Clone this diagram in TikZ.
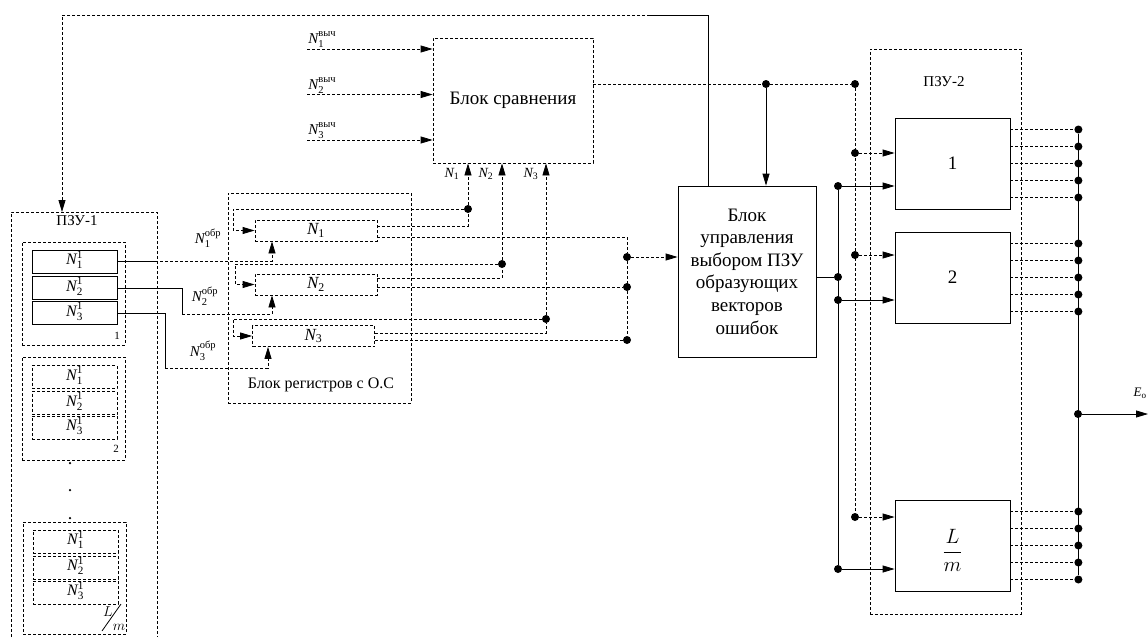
\documentclass[tikz,border=0pt]{standalone}
\usepackage{fontspec}
\setmainfont{Liberation Serif}
\usepackage{amsmath}
\usepackage{tikz}
\usetikzlibrary{arrows.meta, positioning, calc}

\newcommand{\Nx}[2]{$\mathit{N}_{\text{#1}}^{\text{#2}}$}
\newcommand{\Nv}[2]{$\mathit{N}_{\text{#1}}^{\text{\raisebox{1.5pt}{#2}}}$}
\newcommand{\Ns}[1]{$\mathit{N}_{\text{#1}}$}
\newcommand{\Nr}[2]{\raisebox{0pt}[8pt][2pt]{\Nx{#1}{#2}}}

\begin{document}
\begin{tikzpicture}[x=1pt, y=-1pt, line width=0.8pt,
    dl/.style={dash pattern=on 3pt off 2pt},
    tip/.style={-{Triangle[length=12pt,width=7pt]}},
    box/.style={draw, inner sep=0pt, align=center, font=\fontsize{19}{22.6}\selectfont},
    dbox/.style={box, dl},
    reg/.style={box, minimum width=85pt, minimum height=23pt, font=\fontsize{16}{18}\selectfont},
    rr/.style={dbox, minimum width=122pt, minimum height=21pt, font=\fontsize{17}{20}\selectfont},
    romblk/.style={box, minimum width=115pt, minimum height=91pt, font=\fontsize{19}{22}\selectfont},
    dot/.style={circle, fill, inner sep=0pt, minimum size=8pt},
    pdot/.style={circle, fill, inner sep=0pt, minimum size=2.5pt},
    lbl/.style={inner sep=1pt, font=\fontsize{15}{18}\selectfont},
    slbl/.style={inner sep=1pt, font=\fontsize{14}{16}\selectfont},
]
\useasboundingbox (0,0) rectangle (1148,637);

\draw[dl] (11,637) -- (11,212) -- (157,212) -- (157,637);
\coordinate (rom1) at (62,212);
\node[lbl] (rom1lbl) at (77,221) {ПЗУ-1};
\node[dbox, minimum width=103pt, minimum height=103pt] (s1) at (73.5,293.5) {};
\node[dbox, minimum width=103pt, minimum height=103pt] (s2) at (73.5,408.5) {};
\node[dbox, minimum width=103pt, minimum height=112pt] (s3) at (74.5,578) {};
\node[reg] (p11) at (74.5,261.5) {\Nr{1}{1}};
\node[reg] (p12) at (74.5,288) {\Nr{2}{1}};
\node[reg] (p13) at (74.5,313) {\Nr{3}{1}};
\node[reg, dl] (p21) at (74.5,377) {\Nr{1}{1}};
\node[reg, dl] (p22) at (74.5,403) {\Nr{2}{1}};
\node[reg, dl] (p23) at (74.5,427.5) {\Nr{3}{1}};
\node[reg, dl] (p31) at (75.5,541.5) {\Nr{1}{1}};
\node[reg, dl] (p32) at (75.5,567.5) {\Nr{2}{1}};
\node[reg, dl] (p33) at (75.5,592.5) {\Nr{3}{1}};
\node[slbl, font=\fontsize{11}{13}\selectfont] (s1n) at (117,336) {1};
\node[slbl, font=\fontsize{11}{13}\selectfont] (s2n) at (116,449) {2};
\foreach \y in {463,490,518} \node[pdot] (vd\y) at (70,\y) {};
\node[lbl] (lmL) at (108,612) {$L$};
\node[lbl] (lmm) at (119,627) {$m$};
\draw (121,604) -- (102,631);

\node[dbox, minimum width=183pt, minimum height=210pt] (regs) at (319.5,298) {};
\node[lbl, font=\fontsize{16}{18}\selectfont] (regslbl) at (321,385) {Блок регистров с О.С};
\node[rr] (r1) at (316,230.5) {\Ns{1}};
\node[rr] (r2) at (316,284.5) {\Ns{2}};
\node[rr] (r3) at (313.5,336) {\Ns{3}};

\node[dbox, minimum width=160pt, minimum height=125pt] (cmp) at (513,100.5) {\raisebox{-4pt}{Блок сравнения}};
\node[box, minimum width=138pt, minimum height=171pt] (ctl) at (747,271.5) {Блок\\управления\\выбором ПЗУ\\образующих\\векторов\\ошибок};

\node[dbox, minimum width=151pt, minimum height=565pt] (rom2) at (945.5,331.5) {};
\node[lbl] (rom2lbl) at (944,82) {ПЗУ-2};
\node[romblk] (b1) at (952.5,163.5) {1};
\node[romblk] (b2) at (952.5,277.5) {2};
\node[romblk, font=\fontsize{20}{24}\selectfont] (bm) at (952.5,545.5) {\raisebox{-12pt}[0pt][0pt]{$\dfrac{L\rule[-5pt]{0pt}{0pt}}{\rule{0pt}{15pt}m}$}};

\foreach \i/\y in {1/49, 2/94.5, 3/140} {
  \coordinate (in\i) at (307,\y);
  \draw[dl, tip] (in\i) -- (in\i -| cmp.west);
  \node[lbl, anchor=south west] (inl\i) at (in\i) {\Nv{\i}{выч}};
}

\node[dot] (j1) at (468,209) {};
\node[dot] (j2) at (502,264) {};
\node[dot] (j3) at (546,319) {};
\foreach \i in {1,2,3} \draw[dl, tip] (j\i) -- (j\i |- cmp.south);
\node[slbl] (jl1) at (452,174) {\Ns{1}};
\node[slbl] (jl2) at (486,174) {\Ns{2}};
\node[slbl] (jl3) at (531,174) {\Ns{3}};

\draw[dl, tip] (j1) -- ++(-235,0) |- (r1.west);
\draw[dl, tip] (j2) -- ++(-267,0) |- (r2.west);
\draw[dl, tip] (j3) -- ++(-313,0) |- (r3.west);

\node[dot] (k1) at (627,257) {};
\node[dot] (k2) at (627,287) {};
\node[dot] (k3) at (627,340) {};
\draw[dl] ([yshift=4.5pt]r1.east) -| (j1);
\draw[dl] ([yshift=-6.5pt]r1.east) -| (k1);
\draw[dl] ([yshift=6.5pt]r2.east) -| (j2);
\draw[dl] ([yshift=-2.5pt]r2.east) -- (k2);
\draw[dl] ([yshift=3pt]r3.east) -| (j3);
\draw[dl] ([yshift=-4pt]r3.east) -- (k3);
\draw[dl] (k1) -- (k3);
\draw[dl, tip] (k1) -- (k1 -| ctl.west);

\coordinate (a1) at ([xshift=-44pt]r1.south);
\coordinate (a2) at ([xshift=-44pt]r2.south);
\coordinate (a3) at ([xshift=-45.5pt]r3.south);
\draw (p11.east) -- ++(38,0) coordinate (c1);
\draw[dl, tip] (c1) -| (a1);
\draw (p12.east) -- ++(65,0) -- ++(0,26) coordinate (c2);
\draw[dl, tip] (c2) -| (a2);
\draw (p13.east) -- ++(48,0) -- ++(0,55) coordinate (c3);
\draw[dl, tip] (c3) -| (a3);
\node[lbl] (ob1) at (208,238) {\Nx{1}{обр}};
\node[lbl] (ob2) at (205,296) {\Nx{2}{обр}};
\node[lbl] (ob3) at (203,351) {\Nx{3}{обр}};

\coordinate (fb) at (650,15);
\draw ([xshift=-39pt]ctl.north) |- (fb);
\draw[dl, tip] (fb) -| (rom1);

\node[dot] (o1) at (766,84) {};
\node[dot] (o2) at (855,84) {};
\draw[dl] ([yshift=16.5pt]cmp.east) -- (o1) -- (o2);
\draw[tip] (o1) -- (o1 |- ctl.north);
\node[dot] (q1) at (855,153) {};
\node[dot] (q2) at (855,255) {};
\node[dot] (q3) at (855,517) {};
\draw[dl] (o2) -- (q3);
\foreach \q/\b in {q1/b1, q2/b2, q3/bm} \draw[dl, tip] (\q) -- (\q -| \b.west);

\node[dot] (u1) at (838,186) {};
\node[dot] (u2) at (838,277) {};
\node[dot] (u3) at (838,300) {};
\node[dot] (u4) at (838,569) {};
\draw (u1) -- (u4);
\draw ([yshift=-5.5pt]ctl.east) -- (u2);
\foreach \u/\b in {u1/b1, u3/b2, u4/bm} \draw[tip] (\u) -- (\u -| \b.west);

\foreach \b in {b1,b2,bm} \foreach \k/\d in {1/34,2/17,3/0,4/-17,5/-34} {
  \draw[dl] ([yshift=\d pt]\b.east) -- ++(68,0) node[dot] (\b-\k) {};
}
\draw (b1-1) -- (bm-5);
\node[dot] (eo) at (1078,414) {};
\draw[tip] (eo) -- ++(70,0);
\node[slbl, font=\fontsize{13}{15}\selectfont, anchor=south east] (eolbl) at (1148,400) {$\mathit{E}_{\text{о}}$};
\end{tikzpicture}
\end{document}
